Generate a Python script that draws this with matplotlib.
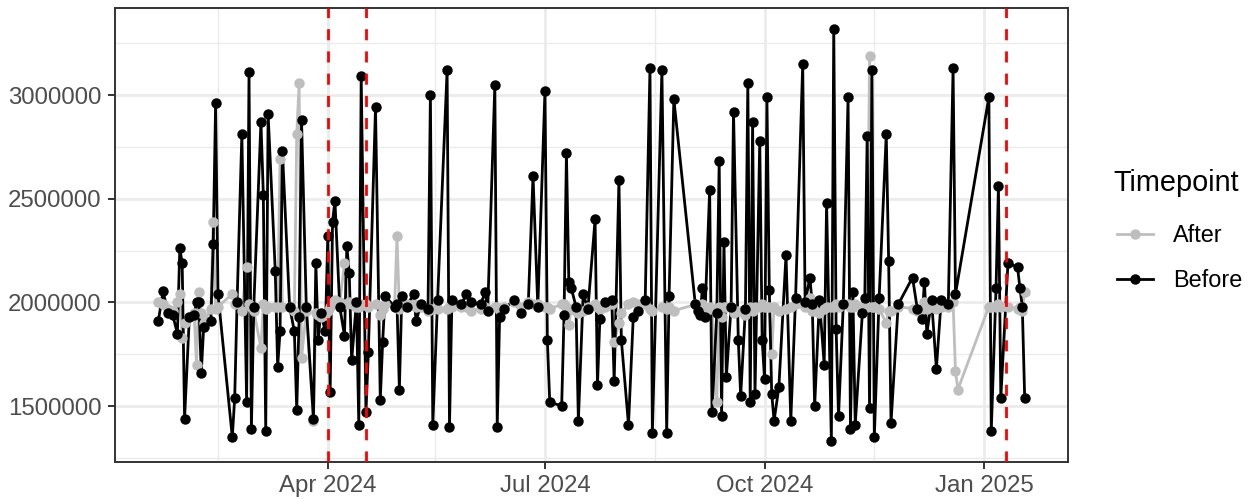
import matplotlib
matplotlib.use("Agg")
import matplotlib.pyplot as plt
import matplotlib.dates as mdates
from matplotlib.lines import Line2D
from matplotlib.ticker import FixedLocator, FuncFormatter
import numpy as np
import pandas as pd

plt.rcParams['font.family'] = ['Liberation Sans', 'DejaVu Sans']

start_date = "2024-01-01"
# days since start_date
day_offset = [20, 22, 24, 26, 28, 29, 30, 31, 33, 35, 36, 37, 38, 39, 42, 43, 44, 45, 51, 52,
              53, 55, 57, 58, 59, 60, 63, 64, 65, 66, 69, 70, 71, 72, 75, 77, 78, 79, 80, 82,
              85, 86, 87, 88, 90, 91, 92, 93, 94, 96, 98, 99, 100, 101, 103, 104, 105, 107, 108, 111,
              113, 114, 115, 119, 120, 121, 122, 124, 127, 128, 130, 133, 134, 135, 137, 141, 142, 143, 147, 149,
              151, 155, 157, 158, 161, 162, 163, 165, 169, 172, 175, 177, 179, 182, 183, 184, 189, 190, 191, 192,
              193, 195, 196, 198, 200, 203, 204, 205, 207, 210, 211, 213, 214, 217, 219, 221, 224, 226, 227, 231,
              233, 234, 236, 245, 246, 247, 248, 249, 251, 252, 254, 255, 256, 257, 258, 260, 261, 263, 264, 266,
              267, 268, 269, 270, 272, 273, 274, 275, 276, 277, 278, 280, 283, 285, 287, 290, 291, 293, 294, 295,
              297, 299, 300, 302, 303, 304, 305, 307, 309, 310, 311, 312, 315, 316, 317, 318, 319, 320, 322, 325,
              326, 327, 330, 336, 338, 340, 341, 342, 344, 346, 348, 351, 353, 354, 355, 368, 369, 371, 372, 373,
              376, 380, 381, 382, 383]

before = [1.91, 2.055, 1.95, 1.94, 1.85, 2.26, 2.19, 1.44, 1.93, 1.94, 2.00, 2.00, 1.66, 1.88, 1.91, 2.28, 2.96, 2.04, 1.35, 1.54,
          2.00, 2.81, 1.52, 3.11, 1.39, 1.98, 2.87, 2.52, 1.38, 2.91, 2.15, 1.69, 1.86, 2.73, 1.98, 1.86, 1.48, 1.93, 2.88, 1.98,
          1.44, 2.19, 1.82, 1.95, 1.86, 2.32, 1.57, 2.39, 2.49, 1.98, 1.84, 2.27, 2.14, 1.72, 2.00, 1.41, 3.09, 1.47, 1.76, 2.94,
          1.53, 1.81, 2.03, 1.98, 1.99, 1.58, 2.03, 1.98, 2.04, 1.91, 1.99, 1.97, 3.00, 1.41, 2.01, 3.12, 1.40, 2.01, 1.99, 2.04,
          2.00, 1.99, 2.05, 1.96, 3.05, 1.40, 1.93, 1.97, 2.01, 1.95, 1.99, 2.61, 1.98, 3.02, 1.82, 1.52, 1.50, 1.94, 2.72, 2.10,
          2.07, 1.98, 1.43, 2.04, 1.97, 2.40, 1.60, 1.92, 2.00, 2.01, 1.62, 2.59, 1.82, 1.41, 1.93, 1.96, 2.01, 3.13, 1.37, 3.12,
          1.37, 2.03, 2.98, 1.99, 1.96, 1.94, 2.07, 1.93, 2.54, 1.47, 1.95, 2.68, 1.45, 2.29, 1.64, 1.98, 2.92, 1.82, 1.55, 1.97,
          3.06, 1.52, 2.87, 1.56, 2.78, 1.82, 1.63, 2.99, 2.06, 1.56, 1.43, 1.59, 2.23, 1.43, 2.02, 3.15, 2.00, 2.12, 1.99, 1.50,
          2.01, 1.70, 2.48, 1.33, 3.32, 1.87, 1.45, 1.99, 2.99, 1.39, 2.05, 1.41, 1.95, 2.02, 2.80, 1.49, 3.12, 1.35, 2.02, 2.81,
          2.20, 1.42, 1.99, 2.12, 1.97, 1.92, 2.10, 1.85, 2.01, 1.68, 2.01, 1.99, 3.13, 2.04, np.nan, 2.99, 1.38, 2.07, 2.56, 1.54,
          2.19, 2.17, 2.07, 1.98, 1.54]

after = [2.00, 1.99, 1.97, 1.96, 2.00, 2.04, 1.83, 1.90, 1.93, 1.95, 1.70, 2.05, 1.95, 1.90, 1.97, 2.39, 1.97, 1.98, 2.04, 1.99,
         2.00, 1.96, 2.17, 1.99, 1.98, 1.96, 1.78, 1.99, 1.97, 1.98, 1.98, 1.98, 2.69, 1.98, 1.98, 1.96, 2.81, 3.06, 1.73, 1.96,
         1.43, 1.95, 1.94, 1.93, 1.94, 1.96, 1.98, 2.00, 2.01, 2.00, 2.19, 1.99, 2.00, 1.99, 1.98, 1.98, 1.99, 1.99, 1.98, 1.99,
         1.94, 1.97, 1.99, 1.98, 2.32, 1.97, 2.00, 1.99, 1.99, 1.98, 1.98, 1.96, 1.97, 1.97, 1.97, 1.97, 1.98, 1.98, 1.98, 1.98,
         1.96, 1.97, 1.98, 1.97, 1.98, 1.98, 1.96, 1.98, 2.00, 1.98, 2.00, 1.99, 1.99, 1.98, 1.98, 1.97, 1.99, 1.99, 1.98, 1.89,
         1.97, 1.96, 1.95, 1.96, 1.98, 1.99, 1.98, 1.97, 1.98, 1.99, 1.81, 1.90, 1.95, 1.99, 2.00, 1.99, 1.99, 1.97, 1.96, 1.98,
         1.97, 1.98, 1.96, 1.99, 1.98, 1.96, 1.99, 1.95, 1.98, 1.97, 1.52, 1.98, 1.93, 1.98, 1.98, 1.98, 1.95, 1.96, 1.96, 1.94,
         1.97, 1.98, 1.96, 1.98, 1.98, 1.99, 1.98, 1.98, 1.98, 1.75, 1.98, 1.96, 1.97, 1.98, 1.99, 1.99, 1.98, 2.02, 1.96, 1.96,
         1.95, 1.97, 1.98, 1.98, 1.98, 1.99, 1.98, 1.99, 1.99, 1.98, 1.98, 1.99, 1.98, 1.99, 1.98, 3.19, 1.98, 1.98, 1.97, 1.90,
         1.96, 1.96, 1.98, 1.97, 1.96, 1.97, 2.00, 1.97, 1.98, 1.97, 1.98, 1.98, 2.00, 1.67, 1.58, 1.98, 1.98, 1.98, 1.99, 1.98,
         1.98, 1.97, 1.98, 1.96, 2.05]

event_dates = ["2024-04-01", "2024-04-17", "2025-01-10"]
x_ticks = ["2024-04-01", "2024-07-01", "2024-10-01", "2025-01-01"]
x_minor = ["2024-02-15", "2024-05-16", "2024-08-16", "2024-11-16"]
y_ticks = [1500000, 2000000, 2500000, 3000000]
y_minor = [1250000, 1750000, 2250000, 2750000, 3250000]
series_names = ["After", "Before"]
legend_title = "Timepoint"

dates = pd.Timestamp(start_date) + pd.to_timedelta(day_offset, unit="D")
df = pd.DataFrame({"date": dates,
                   "Before": np.array(before) * 1e6,
                   "After": np.array(after) * 1e6})

colors = {"After": "#BEBEBE", "Before": "#000000"}

fig = plt.figure(figsize=(12.56, 4.99), dpi=100)
ax = fig.add_axes([115/1256, 37/499, (1068-115)/1256, (462-8)/499])

for i, key in enumerate(series_names):
    sub = df[["date", key]].dropna()
    ax.plot(sub["date"], sub[key], color=colors[key], lw=2.0, zorder=3 + i,
            solid_capstyle="butt")
for i, key in enumerate(series_names):
    sub = df[["date", key]].dropna()
    ax.plot(sub["date"], sub[key], ls="none", marker="o", ms=7.5,
            color=colors[key], mec="none", zorder=5 + i)

for d in event_dates:
    ax.axvline(pd.Timestamp(d), color="red", lw=2.0, ls=(0, (4, 4)),
               zorder=8, dash_capstyle="butt")

ax.margins(x=0.05, y=0.05)

ax.xaxis.set_major_locator(FixedLocator(mdates.date2num(pd.to_datetime(x_ticks))))
ax.xaxis.set_minor_locator(FixedLocator(mdates.date2num(pd.to_datetime(x_minor))))
ax.xaxis.set_major_formatter(mdates.DateFormatter("%b %Y"))
ax.yaxis.set_major_locator(FixedLocator(y_ticks))
ax.yaxis.set_minor_locator(FixedLocator(y_minor))
ax.yaxis.set_major_formatter(FuncFormatter(lambda v, p: f"{int(v)}"))

ax.grid(which="major", color="#EBEBEB", lw=2.0, zorder=0)
ax.grid(which="minor", color="#EBEBEB", lw=1.0, zorder=0)
ax.set_axisbelow(True)

for s in ax.spines.values():
    s.set_color("#333333")
    s.set_linewidth(1.4)
ax.tick_params(which="major", length=5.2, width=1.4, color="#333333",
               labelsize=17.3, labelcolor="#4D4D4D", pad=4.5)
ax.tick_params(which="minor", length=0)

handles = [Line2D([], [], color=colors[k], lw=2.0, marker="o", ms=7.5, mec="none")
           for k in series_names]
leg = fig.legend(handles, series_names,
                 loc="center left", bbox_to_anchor=(1108/1256, 1 - 258/499),
                 frameon=False, fontsize=16.9,
                 handlelength=1.53, handletextpad=0.85, labelspacing=0.92,
                 borderaxespad=0)
fig.text(1113/1256, 1 - 183/499, legend_title, fontsize=20.8, color="black",
         ha="left", va="center")

fig.savefig("out.png", dpi=100)
